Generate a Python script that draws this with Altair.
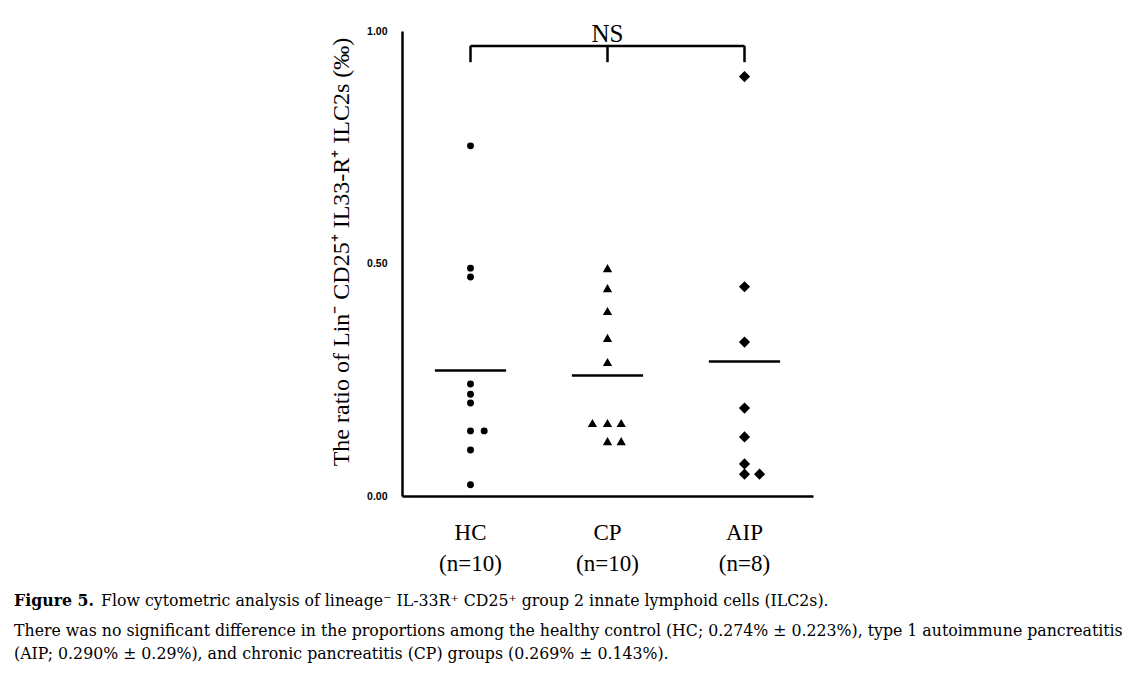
import altair as alt
import pandas as pd

# ---------------- data ----------------
groups = ["HC", "CP", "AIP"]
group_n = [10, 10, 8]
group_pos = [0.5, 1.5, 2.5]

hc_values = [0.753, 0.490, 0.471, 0.241, 0.219, 0.200, 0.140, 0.140, 0.099, 0.024]
hc_offsets = [0, 0, 0, 0, 0, 0, 0, 0.10, 0, 0]
cp_values = [0.490, 0.447, 0.398, 0.340, 0.288, 0.157, 0.157, 0.157, 0.118, 0.118]
cp_offsets = [0, 0, 0, 0, 0, -0.11, 0, 0.10, 0, 0.10]
aip_values = [0.902, 0.450, 0.331, 0.189, 0.127, 0.069, 0.047, 0.047]
aip_offsets = [0, 0, 0, 0, 0, 0, 0, 0.11]

means = [0.270, 0.259, 0.289]
y_ticks = [0.0, 0.5, 1.0]

bracket_top = 0.968
bracket_drop = 0.933
sig_label = "NS"

y_title = "The ratio of Lin\u207b CD25\u207a IL33-R\u207a ILC2s (\u2030)"
caption_bold = "Figure 5."
caption_1 = "Flow cytometric analysis of lineage\u207b IL-33R\u207a CD25\u207a group 2 innate lymphoid cells (ILC2s)."
caption_2 = ("There was no significant difference in the proportions among the healthy control "
             "(HC; 0.274% \u00b1 0.223%), type 1 autoimmune pancreatitis")
caption_3 = "(AIP; 0.290% \u00b1 0.29%), and chronic pancreatitis (CP) groups (0.269% \u00b1 0.143%)."

# ---------------- tables ----------------
rows = []
for g, pos, vals, offs in zip(groups, group_pos,
                              [hc_values, cp_values, aip_values],
                              [hc_offsets, cp_offsets, aip_offsets]):
    for v, o in zip(vals, offs):
        rows.append({"group": g, "x": pos + o, "value": v})
points_df = pd.DataFrame(rows)

half = 0.26
mean_df = pd.DataFrame({
    "group": groups,
    "x1": [p - half for p in group_pos],
    "x2": [p + half for p in group_pos],
    "mean": means,
})

label_df = pd.DataFrame({
    "x": group_pos,
    "label": [f"{g}\n(n={n})" for g, n in zip(groups, group_n)],
})

bracket_h = pd.DataFrame({"x1": [group_pos[0]], "x2": [group_pos[-1]], "y": [bracket_top]})
bracket_v = pd.DataFrame({"x": group_pos, "y1": [bracket_drop] * 3, "y2": [bracket_top] * 3})
sig_df = pd.DataFrame({"x": [group_pos[1]], "y": [bracket_top], "t": [sig_label]})

W, H = 411, 465
xs = alt.Scale(domain=[0, 3], nice=False, zero=False)
ys = alt.Scale(domain=[0, 1], nice=False, zero=False)

x_axis = alt.Axis(labels=False, ticks=False, grid=False, title=None,
                  domainColor="black", domainWidth=2.5)
y_axis = alt.Axis(values=y_ticks, format=".2f", ticks=False, grid=False, title=None,
                  labelFont="Liberation Sans", labelFontWeight="bold", labelFontSize=10.5,
                  labelColor="black", labelPadding=15,
                  domainColor="black", domainWidth=2.5)

points = alt.Chart(points_df).mark_point(filled=True, opacity=1, color="black", strokeWidth=0).encode(
    x=alt.X("x:Q", scale=xs, axis=x_axis),
    y=alt.Y("value:Q", scale=ys, axis=y_axis),
    shape=alt.Shape("group:N", scale=alt.Scale(domain=groups, range=["circle", "triangle-up", "diamond"]), legend=None),
    size=alt.Size("group:O", scale=alt.Scale(domain=groups, range=[48, 125, 95]), legend=None),
)

mean_lines = alt.Chart(mean_df).mark_rule(color="black", strokeWidth=2.5).encode(
    x=alt.X("x1:Q", scale=xs), x2="x2:Q", y=alt.Y("mean:Q", scale=ys)
)

br_h = alt.Chart(bracket_h).mark_rule(color="black", strokeWidth=2.5).encode(
    x=alt.X("x1:Q", scale=xs), x2="x2:Q", y=alt.Y("y:Q", scale=ys)
)
br_v = alt.Chart(bracket_v).mark_rule(color="black", strokeWidth=2.5).encode(
    x=alt.X("x:Q", scale=xs), y=alt.Y("y1:Q", scale=ys), y2="y2:Q"
)
sig = alt.Chart(sig_df).mark_text(font="Liberation Serif", fontSize=25, color="black",
                                  baseline="alphabetic", align="center", dy=-4).encode(
    x=alt.X("x:Q", scale=xs), y=alt.Y("y:Q", scale=ys), text="t:N"
)

xlabels = alt.Chart(label_df).mark_text(font="Liberation Serif", fontSize=23, color="black",
                                        baseline="alphabetic", align="center",
                                        lineBreak="\n", lineHeight=31).encode(
    x=alt.X("x:Q", scale=xs), y=alt.value(509), text="label:N"
)

ytitle = alt.Chart(pd.DataFrame({"t": [y_title]})).mark_text(
    font="Liberation Serif", fontSize=24, color="black", angle=270,
    align="center", baseline="middle").encode(
    x=alt.value(-60), y=alt.value(221), text="t:N"
)

cap_font = "DejaVu Serif"
cap_size = 15.75
cap0 = alt.Chart(pd.DataFrame({"t": [caption_bold]})).mark_text(
    font=cap_font, fontSize=cap_size, fontWeight="bold", color="black",
    align="left", baseline="alphabetic").encode(
    x=alt.value(-388), y=alt.value(575), text="t:N")
cap1 = alt.Chart(pd.DataFrame({"t": [caption_1]})).mark_text(
    font=cap_font, fontSize=cap_size, color="black",
    align="left", baseline="alphabetic").encode(
    x=alt.value(-301), y=alt.value(575), text="t:N")
cap2 = alt.Chart(pd.DataFrame({"t": [caption_2]})).mark_text(
    font=cap_font, fontSize=cap_size, color="black",
    align="left", baseline="alphabetic").encode(
    x=alt.value(-388), y=alt.value(605), text="t:N")
cap3 = alt.Chart(pd.DataFrame({"t": [caption_3]})).mark_text(
    font=cap_font, fontSize=cap_size, color="black",
    align="left", baseline="alphabetic").encode(
    x=alt.value(-388), y=alt.value(628), text="t:N")

chart = alt.layer(
    mean_lines, points, br_h, br_v, sig, xlabels, ytitle, cap0, cap1, cap2, cap3
).properties(
    width=W, height=H,
    autosize=alt.AutoSizeParams(type="none"),
    padding={"left": 394, "top": 23, "right": 314, "bottom": 172},
    background="white",
).configure_view(stroke=None)

chart.save("out.html", embed_options={"renderer": "svg", "actions": False})
